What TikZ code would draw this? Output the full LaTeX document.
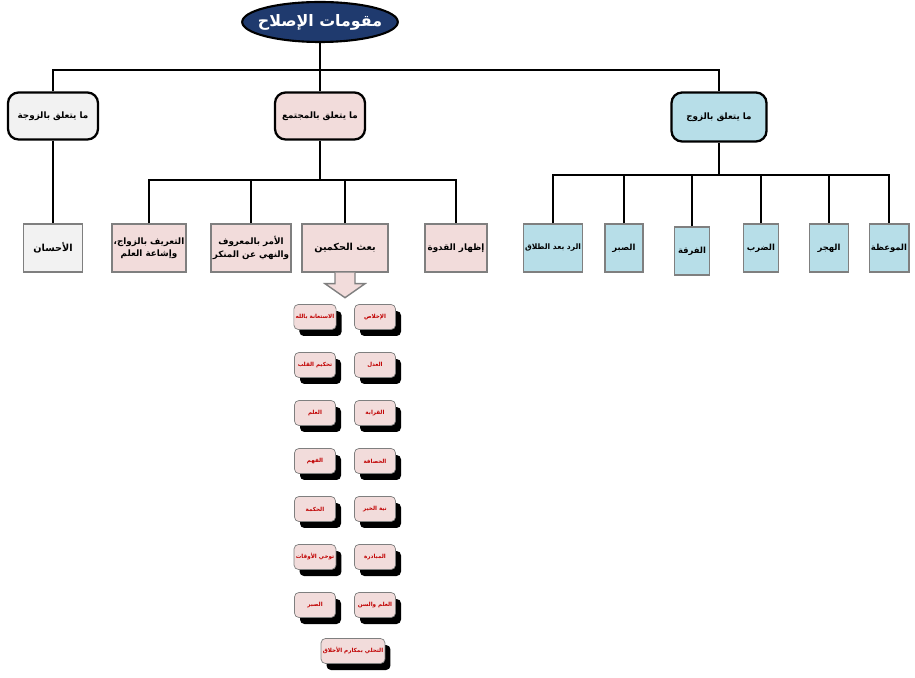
\documentclass[tikz,border=0pt]{standalone}
\usepackage{fontspec}
\usetikzlibrary{shapes.geometric,shadows}
\newfontfamily\arabicfont[Script=Arabic]{DejaVu Sans}
\TeXXeTstate=1
\newcommand{\ar}[1]{{\arabicfont\bfseries\beginR #1\endR}}
\definecolor{navyfill}{HTML}{1F3A6E}
\definecolor{grayfill}{HTML}{F2F2F2}
\definecolor{pinkfill}{HTML}{F2DCDB}
\definecolor{bluefill}{HTML}{B7DEE8}
\definecolor{redtext}{HTML}{C00000}
\definecolor{boxline}{HTML}{7F7F7F}

\begin{document}
\begin{tikzpicture}[x=0.02cm,y=-0.02cm,
  catbox/.style={draw=black,line width=1.3pt,rounded corners=6pt,minimum width=1.8cm,minimum height=0.94cm,font=\fontsize{5}{7}\selectfont},
  kidbox/.style={draw=boxline,line width=0.8pt,minimum height=0.96cm,align=center,inner sep=1pt,font=\fontsize{5.5}{7.5}\selectfont},
  smallbox/.style={draw=boxline,fill=pinkfill,rounded corners=2.5pt,minimum width=0.82cm,minimum height=0.5cm,inner sep=1pt,text=redtext,font=\fontsize{3.2}{4}\selectfont,
    drop shadow={fill=black,opacity=1,shadow xshift=0.11cm,shadow yshift=-0.13cm}},
  link/.style={draw=black,line width=0.9pt}]
\useasboundingbox (0,0) rectangle (915,678);

% top
\node[ellipse,draw=black,line width=1.2pt,fill=navyfill,text=white,inner xsep=-4pt,inner ysep=0pt,minimum width=2.9cm,minimum height=0.8cm,font=\fontsize{9}{10}\selectfont] (title) at (320,22) {\ar{مقومات الإصلاح}};
\coordinate (topbus) at (320,70);

% level one
\node[catbox,fill=grayfill] (wife) at (53,116) {\ar{ما يتعلق بالزوجة}};
\node[catbox,fill=pinkfill] (society) at (320,116) {\ar{ما يتعلق بالمجتمع}};
\node[catbox,fill=bluefill,minimum width=1.9cm,minimum height=0.98cm] (husband) at (719,117) {\ar{ما يتعلق بالزوج}};

\draw[link] (title.south) -- (topbus);
\draw[link] (wife.north) -- (wife.north |- topbus) -| (husband.north);
\draw[link] (society.north) -- (society.north |- topbus);

% wife
\node[kidbox,fill=grayfill,minimum width=1.18cm] (ihsan) at (53,248) {\ar{الأحسان}};
\draw[link] (wife) -- (ihsan);

% society
\coordinate (socbus) at (320,180);
\node[kidbox,fill=pinkfill,minimum width=1.38cm,font=\fontsize{5}{7}\selectfont] (tarif) at (149,248) {\ar{التعريف بالزواج،}\\\ar{وإشاعة العلم}};
\node[kidbox,fill=pinkfill,minimum width=1.36cm,font=\fontsize{5}{7}\selectfont] (amr) at (251,248) {\ar{الأمر بالمعروف}\\\ar{والنهي عن المنكر}};
\node[kidbox,fill=pinkfill,minimum width=1.72cm] (bath) at (345,248) {\ar{بعث الحكمين}};
\node[kidbox,fill=pinkfill,minimum width=1.24cm,font=\fontsize{5}{7}\selectfont] (qudwa) at (456,248) {\ar{إظهار القدوة}};
\draw[link] (society.south) -- (socbus);
\draw[link] (tarif.north) -- (tarif.north |- socbus) -| (qudwa.north);
\draw[link] (amr.north) -- (amr.north |- socbus);
\draw[link] (bath.north) -- (bath.north |- socbus);
\draw[boxline,fill=pinkfill,line width=0.8pt] ([xshift=-0.2cm]bath.south) -- ++(0,11) -- ++(-10,0) -- ([yshift=-0.5cm]bath.south) -- ++(20,-14) -- ++(-10,0) -- ++(0,-11);

% husband
\coordinate (husbus) at (719,175);
\node[kidbox,fill=bluefill,minimum width=0.92cm,font=\fontsize{4.3}{6}\selectfont] (radd) at (553,248) {\ar{الرد بعد الطلاق}};
\node[kidbox,fill=bluefill,minimum width=0.76cm,font=\fontsize{4.8}{6}\selectfont] (sabr) at (624,248) {\ar{الصبر}};
\node[kidbox,fill=bluefill,minimum width=0.7cm,font=\fontsize{4.8}{6}\selectfont] (furqa) at (692,251) {\ar{الفرقة}};
\node[kidbox,fill=bluefill,minimum width=0.7cm,font=\fontsize{4.8}{6}\selectfont] (darb) at (761,248) {\ar{الضرب}};
\node[kidbox,fill=bluefill,minimum width=0.78cm,font=\fontsize{4.8}{6}\selectfont] (hajr) at (829,248) {\ar{الهجر}};
\node[kidbox,fill=bluefill,minimum width=0.7cm,font=\fontsize{4.8}{6}\selectfont] (mawiza) at (889,248) {\ar{الموعظة}};
\draw[link] (husband.south) -- (husbus);
\draw[link] (radd.north) -- (radd.north |- husbus) -| (mawiza.north);
\foreach \k in {sabr,furqa,darb,hajr}
  \draw[link] (\k.north) -- (\k.north |- husbus);

% arbitrators' qualities
\foreach \t [count=\i] in {الاستعانة بالله,تحكيم القلب,العلم,الفهم,الحكمة,توخي الأوقات,الصبر}
  \node[smallbox] (l\i) at (315,269+48*\i) {\ar{\t}};
\foreach \t [count=\i] in {الإخلاص,العدل,القرابة,الحصافة,نية الخير,المبادرة,العلم والسن}
  \node[smallbox] (r\i) at (375,269+48*\i) {\ar{\t}};
\node[smallbox,minimum width=1.05cm] (tahalli) at (353,651) {\ar{التحلي بمكارم الأخلاق}};
\end{tikzpicture}
\end{document}
